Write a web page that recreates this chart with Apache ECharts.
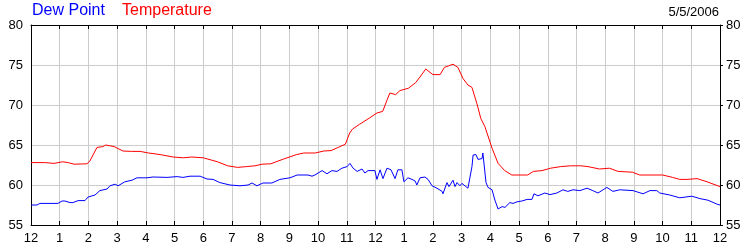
<!DOCTYPE html>
<html>
<head>
<meta charset="utf-8">
<script src="https://cdn.jsdelivr.net/npm/echarts@6/dist/echarts.min.js"></script>
<style>
html,body{margin:0;padding:0;background:#fff;}
#chart{width:750px;height:250px;}
</style>
</head>
<body>
<div id="chart"></div>
<script>
var hourLabels = ['12','1','2','3','4','5','6','7','8','9','10','11','12','1','2','3','4','5','6','7','8','9','10','11','12'];

var tempTimes = [0,0.5,0.8,1.1,1.3,1.5,1.95,2.05,2.3,2.5,2.6,2.75,2.9,3.2,3.5,3.8,4.1,4.5,4.95,5.3,5.6,6.0,6.2,6.5,6.85,7.2,7.5,7.8,8.05,8.35,8.8,9.25,9.5,9.9,10.2,10.45,10.7,10.95,11.1,11.2,11.45,11.8,12.05,12.25,12.4,12.5,12.7,12.85,13.15,13.4,13.55,13.75,14.0,14.25,14.4,14.55,14.7,14.87,15.05,15.22,15.36,15.53,15.67,15.81,16.06,16.27,16.5,16.75,17.3,17.5,17.8,18.1,18.45,18.8,19.15,19.4,19.8,20.15,20.45,20.95,21.2,22.0,22.35,22.6,22.85,23.2,23.55,24.0];
var temperature = [62.8,62.8,62.7,62.9,62.8,62.6,62.65,63.0,64.7,64.8,65.0,64.9,64.8,64.25,64.2,64.2,64.0,63.8,63.5,63.4,63.5,63.4,63.2,62.9,62.4,62.2,62.3,62.4,62.6,62.65,63.25,63.8,64.0,64.0,64.25,64.3,64.7,65.1,66.5,67.0,67.6,68.4,69.0,69.2,70.6,71.5,71.3,71.8,72.1,72.8,73.5,74.5,73.8,73.8,74.7,74.9,75.1,74.7,73.3,72.5,72.2,70.2,68.3,67.3,64.6,62.7,61.8,61.25,61.25,61.7,61.8,62.1,62.3,62.4,62.4,62.3,62.0,62.1,61.7,61.6,61.25,61.25,60.95,60.7,60.7,60.8,60.4,59.8];

var dewTimes = [0.00,0.21,0.31,0.94,1.08,1.18,1.36,1.46,1.64,1.88,1.99,2.23,2.40,2.65,2.75,2.93,3.03,3.27,3.52,3.69,4.04,4.25,4.74,5.09,5.29,5.54,5.89,6.13,6.34,6.58,6.93,7.28,7.56,7.70,7.87,8.08,8.39,8.67,9.02,9.27,9.65,9.79,9.89,10.14,10.31,10.48,10.66,10.83,11.01,11.11,11.22,11.36,11.53,11.63,11.74,11.98,12.05,12.16,12.26,12.40,12.54,12.68,12.78,12.92,12.99,13.13,13.27,13.38,13.44,13.55,13.72,13.83,13.97,14.14,14.32,14.35,14.49,14.56,14.70,14.77,14.84,14.94,15.01,15.15,15.22,15.36,15.40,15.50,15.57,15.71,15.74,15.85,15.92,16.06,16.16,16.27,16.41,16.51,16.68,16.79,16.93,17.10,17.28,17.45,17.52,17.66,17.90,18.08,18.32,18.53,18.70,18.88,19.12,19.37,19.57,19.75,20.06,20.27,20.51,20.97,21.32,21.56,21.80,21.90,22.25,22.60,23.02,23.30,23.58,23.90,24.00];
var dewPoint = [57.5,57.5,57.7,57.7,58.0,58.0,57.8,57.8,58.05,58.05,58.5,58.75,59.3,59.5,59.9,60.1,59.9,60.4,60.6,60.9,60.9,61.0,60.95,61.05,60.95,61.1,61.1,60.75,60.7,60.3,60.0,59.9,60.0,60.25,59.9,60.25,60.25,60.7,60.9,61.25,61.25,61.1,61.25,61.8,61.4,61.8,61.7,62.1,62.3,62.7,62.1,61.7,62.0,61.5,61.8,61.8,60.7,61.9,60.8,62.1,61.9,60.8,61.9,61.9,60.4,60.9,60.7,60.5,60.0,60.9,61.0,60.7,59.9,59.6,59.2,58.9,60.3,59.8,60.6,59.8,60.3,59.9,60.2,59.8,59.6,62.3,63.75,63.8,63.2,63.3,64.0,60.3,59.7,59.4,58.1,57.0,57.3,57.2,57.8,57.7,57.9,58.0,58.2,58.2,58.9,58.65,59.0,58.8,59.0,59.4,59.2,59.4,59.3,59.6,59.3,59.0,59.7,59.2,59.4,59.3,58.9,59.3,59.3,59.0,58.75,58.4,58.6,58.3,58.1,57.6,57.5];

var yMin = 55, yMax = 80, yStep = 5;
var dateText = '5/5/2006';

function pairs(t, v){ return v.map(function(val,i){ return [t[i], val]; }); }

var FONT = 'Liberation Sans, Arial, sans-serif';
var chart = echarts.init(document.getElementById('chart'), null, {renderer:'canvas'});
chart.setOption({
  animation:false,
  backgroundColor:'#ffffff',
  title:[
    {text:'Dew Point', left:32, top:3, padding:0, textStyle:{color:'#0000ff', fontSize:16, fontWeight:'normal', fontFamily:FONT}},
    {text:'Temperature', left:122, top:3, padding:0, textStyle:{color:'#ff0000', fontSize:16, fontWeight:'normal', fontFamily:FONT}},
    {text:dateText, right:31, top:6, padding:0, textStyle:{color:'#000000', fontSize:13, fontWeight:'normal', fontFamily:FONT}}
  ],
  grid:{left:31, right:30, top:25, bottom:25, containLabel:false},
  xAxis:[
    {type:'value', position:'bottom', min:0, max:24, interval:1,
     axisLine:{show:true, lineStyle:{color:'#000', width:1}},
     axisTick:{show:true, inside:true, length:4, lineStyle:{color:'#000'}},
     axisLabel:{show:true, margin:7, color:'#000', fontSize:13, fontFamily:FONT,
       formatter:function(v){ return hourLabels[Math.round(v)]; }},
     splitLine:{show:true, lineStyle:{color:'#cccccc', width:1}}},
    {type:'value', position:'top', min:0, max:24, interval:1,
     axisLine:{show:true, onZero:false, lineStyle:{color:'#000', width:1}},
     axisTick:{show:true, inside:true, length:4, lineStyle:{color:'#000'}},
     axisLabel:{show:false}, splitLine:{show:false}}
  ],
  yAxis:[
    {type:'value', position:'left', min:yMin, max:yMax, interval:yStep,
     axisLine:{show:true, onZero:false, lineStyle:{color:'#000', width:1}},
     axisTick:{show:false},
     axisLabel:{show:true, margin:8, color:'#000', fontSize:13, fontFamily:FONT},
     splitLine:{show:true, lineStyle:{color:'#cccccc', width:1}}},
    {type:'value', position:'right', min:yMin, max:yMax, interval:yStep,
     axisLine:{show:true, onZero:false, lineStyle:{color:'#000', width:1}},
     axisTick:{show:true, inside:false, length:3, lineStyle:{color:'#000'}},
     axisLabel:{show:true, margin:6, color:'#000', fontSize:13, fontFamily:FONT},
     splitLine:{show:false}}
  ],
  series:[
    {name:'Temperature', type:'line', xAxisIndex:0, yAxisIndex:0, data:pairs(tempTimes, temperature),
     showSymbol:false, symbol:'none', lineStyle:{color:'#ff0000', width:1}, itemStyle:{color:'#ff0000'}, z:3},
    {name:'Dew Point', type:'line', xAxisIndex:0, yAxisIndex:0, data:pairs(dewTimes, dewPoint),
     showSymbol:false, symbol:'none', lineStyle:{color:'#0000ff', width:1}, itemStyle:{color:'#0000ff'}, z:4}
  ]
});
</script>
</body>
</html>
